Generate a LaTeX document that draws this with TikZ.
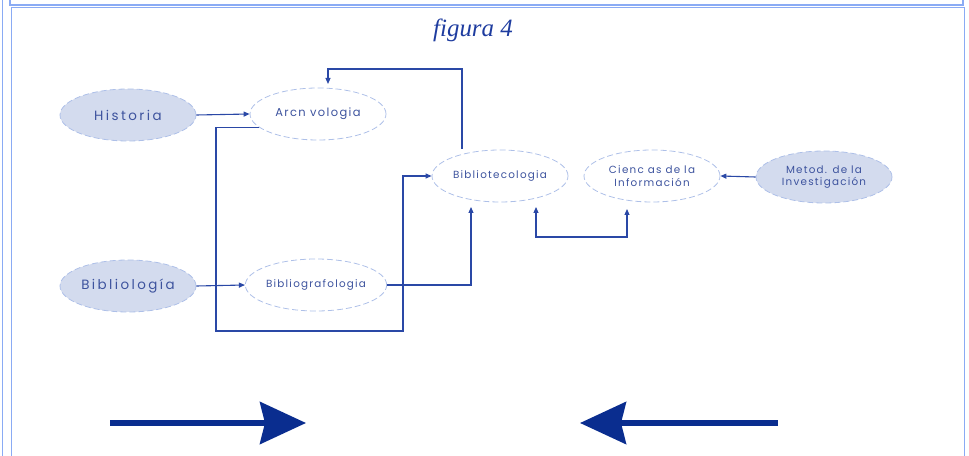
\documentclass[tikz,border=0pt]{standalone}
\usepackage{fontspec}
\setmainfont{Liberation Serif}
\setsansfont{Poppins}
\newfontfamily\diagfont[LetterSpace=12]{Poppins}
\newfontfamily\widefont[LetterSpace=18]{Poppins}
\usetikzlibrary{arrows.meta,shapes.geometric}
\definecolor{framec}{HTML}{8AABF4}
\definecolor{lnblue}{HTML}{2A48A6}
\definecolor{txtblue}{HTML}{3D539E}
\definecolor{fillb}{HTML}{D3DBEE}
\definecolor{dashb}{HTML}{AEC0E8}
\definecolor{navy}{HTML}{0A2D8F}
\definecolor{titleb}{HTML}{1E3C9F}
\tikzset{
  frameline/.style={draw=framec, line width=1.6bp},
  oval/.style={ellipse, draw=dashb, dash pattern=on 6bp off 3bp, line width=0.8bp,
    minimum width=136bp, minimum height=52bp, inner sep=0pt, align=center,
    text=txtblue, font=\diagfont\fontsize{10.4}{12.5}\selectfont},
  filledoval/.style={oval, fill=fillb, font=\widefont\fontsize{13.5}{15}\selectfont},
  conn/.style={draw=lnblue, line width=1.1bp, -{Triangle[length=6bp,width=5bp]}},
  biconn/.style={draw=lnblue, line width=1.1bp, {Triangle[length=6bp,width=5bp]}-{Triangle[length=6bp,width=5bp]}},
  bigarrow/.style={draw=navy, line width=5.5bp, -{Stealth[length=46bp,width=42bp,inset=5bp]}},
}
\begin{document}
\begin{tikzpicture}[x=1bp,y=-1bp]
\useasboundingbox (0,0) rectangle (969,456);
% frame
\draw[frameline] (2.5,0) -- (2.5,456);
\draw[frameline] (10,0) -- (10,5) -- (963,5) -- (963,0);
\draw[frameline] (11.5,456) -- (11.5,7.5) -- (964.5,7.5) -- (964.5,456);
% title
\node[text=titleb, font=\itshape\fontsize{25}{28}\selectfont] (title) at (473,30) {figura 4};
% nodes
\node[filledoval] (hist) at (128,115) {Historia};
\node[oval, font=\diagfont\fontsize{11.5}{13}\selectfont] (arq) at (318,114) {Arcn vologia};
\node[oval] (bt) at (500,176) {Bibliotecologia};
\node[oval] (ci) at (652,176) {Cienc as de la\\Información};
\node[filledoval, font=\diagfont\fontsize{10.4}{12.5}\selectfont] (mi) at (824,177) {Metod. de la\\Investigación};
\node[filledoval] (bl) at (128,286) {Bibliología};
\node[oval] (bg) at (316,285) {Bibliografologia};
% helper coordinates
\coordinate (c1) at (216,331);
\coordinate (c2) at (403,331);
\coordinate (tip1) at (471,207);
\coordinate (s1) at (462,149);
\coordinate (c3) at (328,69);
\coordinate (tip2) at (328,84);
\coordinate (tip3) at (536,207);
\coordinate (c4) at (536,237);
\coordinate (tip4) at (627,209);
\coordinate (a1) at (110,423);
\coordinate (a2) at (306,423);
\coordinate (a3) at (778,423);
\coordinate (a4) at (580,423);
% connectors
\draw[conn] (hist.east) -- (arq.west);
\draw[conn] (arq.193) -| (c1) -- (c2) |- (bt.west);
\draw[conn] (bl.east) -- (bg.west);
\draw[conn] (bg.east) -| (tip1);
\draw[conn] (s1) |- (c3) -- (tip2);
\draw[biconn] (tip3) -- (c4) -| (tip4);
\draw[conn] (mi.west) -- (ci.east);
% big arrows
\draw[bigarrow] (a1) -- (a2);
\draw[bigarrow] (a3) -- (a4);
\end{tikzpicture}
\end{document}
